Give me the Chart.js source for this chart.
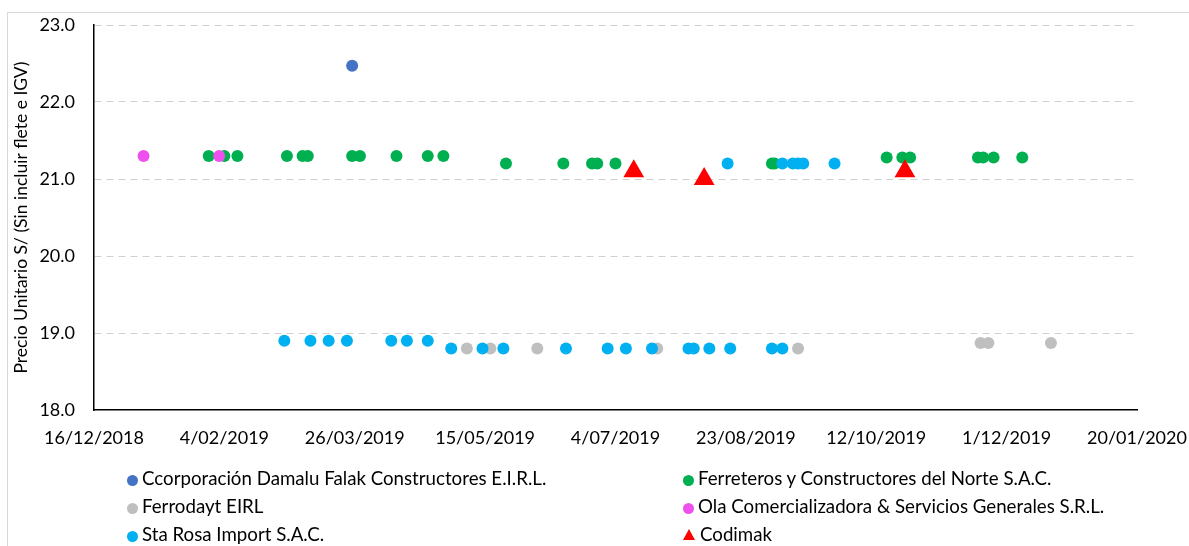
<!DOCTYPE html>
<html lang="es">
<head>
<meta charset="UTF-8">
<title>Precio unitario por proveedor</title>
<script src="https://cdn.jsdelivr.net/npm/chart.js"></script>
<style>
  body { margin: 0; background: #fff; font-family: Lato, sans-serif; }
  #wrap { position: relative; width: 1189px; height: 546px; overflow: hidden; }
  #marco { position: absolute; left: 7px; top: 12px; width: 1300px; height: 700px;
           border-left: 1px solid #d9d9d9; border-top: 1px solid #d9d9d9; }
  #grafico { position: absolute; left: 0; top: 0; }
  .item { position: absolute; font-size: 18.7px; color: #000; white-space: nowrap; line-height: 22px; }
  .punto { display: inline-block; width: 11px; height: 11px; border-radius: 50%; margin-right: 4px; vertical-align: -1px; }
  .tri { display: inline-block; width: 0; height: 0; margin-right: 5px; vertical-align: 1px;
         border-left: 6px solid transparent; border-right: 6px solid transparent; border-bottom: 11px solid #f00; }
</style>
</head>
<body>
<div id="wrap">
  <div id="marco"></div>
  <canvas id="grafico" width="1189" height="546"></canvas>
  <div id="leyenda"></div>
</div>
<script>
// fechas en formato d/mm/aaaa, precios en S/
const ccorpFechas = ['25/03/2019'];
const ccorpPrecios = [22.47];

const ferreterosFechas = ['29/01/2019', '4/02/2019', '9/02/2019', '28/02/2019', '6/03/2019', '8/03/2019',
  '25/03/2019', '28/03/2019', '11/04/2019', '23/04/2019', '29/04/2019',
  '23/05/2019', '14/06/2019', '25/06/2019', '27/06/2019', '4/07/2019', '2/09/2019', '3/09/2019',
  '16/10/2019', '22/10/2019', '25/10/2019', '20/11/2019', '22/11/2019', '26/11/2019', '7/12/2019'];
const ferreterosPrecios = [21.3, 21.3, 21.3, 21.3, 21.3, 21.3,
  21.3, 21.3, 21.3, 21.3, 21.3,
  21.2, 21.2, 21.2, 21.2, 21.2, 21.2, 21.2,
  21.28, 21.28, 21.28, 21.28, 21.28, 21.28, 21.28];

const ferrodaytFechas = ['8/05/2019', '17/05/2019', '4/06/2019', '20/07/2019', '12/09/2019',
  '21/11/2019', '24/11/2019', '18/12/2019'];
const ferrodaytPrecios = [18.8, 18.8, 18.8, 18.8, 18.8, 18.87, 18.87, 18.87];

const olaFechas = ['4/01/2019', '2/02/2019'];
const olaPrecios = [21.3, 21.3];

const staRosaFechas = ['27/02/2019', '9/03/2019', '16/03/2019', '23/03/2019', '9/04/2019', '15/04/2019', '23/04/2019',
  '2/05/2019', '14/05/2019', '22/05/2019', '15/06/2019', '1/07/2019', '8/07/2019', '18/07/2019',
  '1/08/2019', '3/08/2019', '9/08/2019', '17/08/2019', '2/09/2019', '6/09/2019',
  '16/08/2019', '6/09/2019', '10/09/2019', '12/09/2019', '14/09/2019', '26/09/2019'];
const staRosaPrecios = [18.9, 18.9, 18.9, 18.9, 18.9, 18.9, 18.9,
  18.8, 18.8, 18.8, 18.8, 18.8, 18.8, 18.8,
  18.8, 18.8, 18.8, 18.8, 18.8, 18.8,
  21.2, 21.2, 21.2, 21.2, 21.2, 21.2];

const codimakFechas = ['11/07/2019', '7/08/2019', '23/10/2019'];
const codimakPrecios = [21.1, 21.0, 21.1];

const inicioEje = '16/12/2018';
const finEje = '20/01/2020';

function aDias(s) {
  const p = s.split('/');
  return Date.UTC(+p[2], +p[1] - 1, +p[0]) / 86400000;
}
const base = aDias(inicioEje);

function fmtFecha(v) {
  const d = new Date((base + v) * 86400000);
  return d.getUTCDate() + '/' + String(d.getUTCMonth() + 1).padStart(2, '0') + '/' + d.getUTCFullYear();
}

function puntos(fechas, precios) {
  return fechas.map((f, i) => ({ x: aDias(f) - base, y: precios[i] }));
}

const series = [
  { nombre: 'Ccorporación Damalu Falak Constructores E.I.R.L.', color: '#4472C4', datos: puntos(ccorpFechas, ccorpPrecios) },
  { nombre: 'Ferreteros y Constructores del Norte S.A.C.', color: '#00B050', datos: puntos(ferreterosFechas, ferreterosPrecios) },
  { nombre: 'Ferrodayt EIRL', color: '#BFBFBF', datos: puntos(ferrodaytFechas, ferrodaytPrecios) },
  { nombre: 'Ola Comercializadora & Servicios Generales S.R.L.', color: '#EE50EE', datos: puntos(olaFechas, olaPrecios) },
  { nombre: 'Sta Rosa Import S.A.C.', color: '#00B0F0', datos: puntos(staRosaFechas, staRosaPrecios) },
  { nombre: 'Codimak', color: '#FF0000', datos: puntos(codimakFechas, codimakPrecios), triangulo: true }
];

const fuente = { family: 'Lato', size: 18 };

const ctx = document.getElementById('grafico').getContext('2d');
const chart = new Chart(ctx, {
  type: 'scatter',
  data: {
    datasets: series.map((s, i) => ({
      label: s.nombre,
      data: s.datos,
      backgroundColor: s.color,
      borderColor: s.color,
      pointStyle: s.triangulo ? 'triangle' : 'circle',
      pointRadius: s.triangulo ? 12 : 6,
      pointBorderWidth: 0,
      order: series.length - i
    }))
  },
  options: {
    responsive: false,
    animation: false,
    layout: { padding: { top: 25, right: 52, bottom: 0, left: 0 } },
    plugins: { legend: { display: false }, tooltip: { enabled: false } },
    scales: {
      x: {
        type: 'linear',
        min: 0,
        max: aDias(finEje) - base,
        grid: { display: false, drawTicks: false },
        border: { color: '#000', width: 1.5 },
        ticks: { stepSize: 50, padding: 17, font: fuente, color: '#000', maxRotation: 0, autoSkip: false,
          callback: v => fmtFecha(v) },
        afterFit: s => { s.height = 136; s.paddingLeft = 0; s.paddingRight = 0; }
      },
      y: {
        min: 18,
        max: 23,
        grid: { drawTicks: false, lineWidth: 1, color: c => c.tick && c.tick.value === 18 ? 'rgba(0,0,0,0)' : '#d0d0d0' },
        border: { color: '#000', width: 1.5, dash: [7, 5] },
        ticks: { stepSize: 1, padding: 19, font: fuente, color: '#000', callback: v => v.toFixed(1) },
        title: { display: true, text: 'Precio Unitario S/ (Sin incluir flete e IGV)', color: '#000',
          font: { family: 'Lato', size: 17.5 }, padding: { top: 11, bottom: 0 } },
        afterFit: s => { s.width = 94; s.paddingTop = 0; s.paddingBottom = 0; }
      }
    }
  }
});

// leyenda en dos columnas, como en el original
const leyenda = document.getElementById('leyenda');
series.forEach((s, i) => {
  const el = document.createElement('div');
  el.className = 'item';
  el.style.left = (i % 2 === 0 ? 127 : 683) + 'px';
  el.style.top = (467 + Math.floor(i / 2) * 28) + 'px';
  const m = document.createElement('span');
  if (s.triangulo) {
    m.className = 'tri';
  } else {
    m.className = 'punto';
    m.style.background = s.color;
  }
  el.appendChild(m);
  el.appendChild(document.createTextNode(s.nombre));
  leyenda.appendChild(el);
});
</script>
</body>
</html>
